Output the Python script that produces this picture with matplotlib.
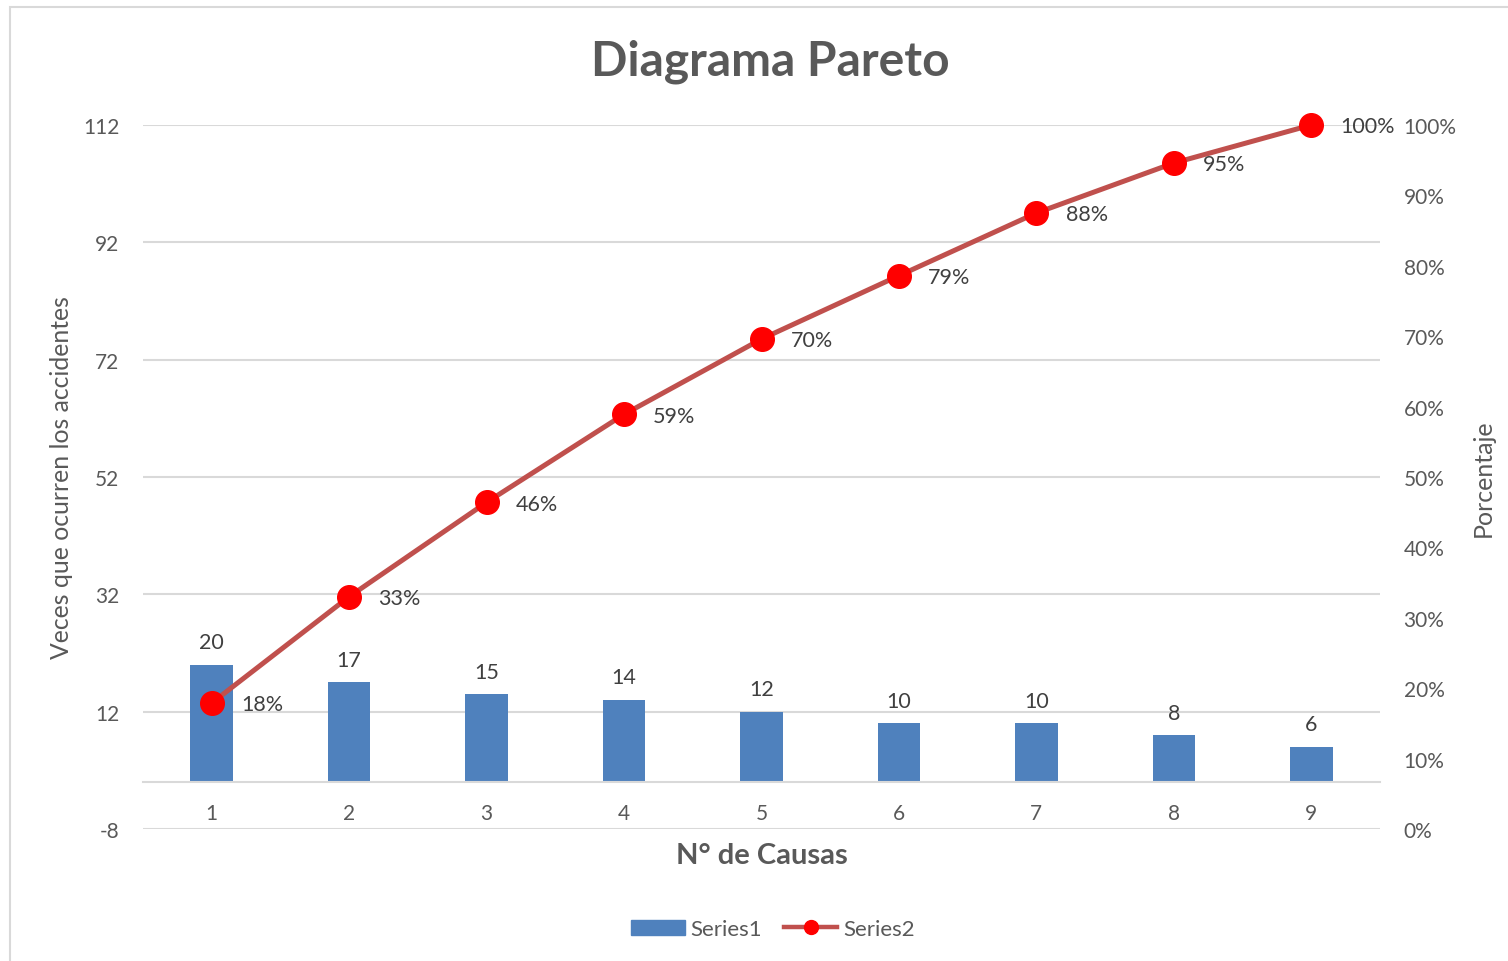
import matplotlib
matplotlib.use("Agg")
import matplotlib.pyplot as plt
from matplotlib.patches import Patch, Rectangle
from matplotlib.lines import Line2D

plt.rcParams['font.family'] = ['Lato', 'DejaVu Sans']
plt.rcParams['axes.unicode_minus'] = False

categories = ["1", "2", "3", "4", "5", "6", "7", "8", "9"]
counts = [20, 17, 15, 14, 12, 10, 10, 8, 6]
cum_pct = [17.9, 33.0, 46.4, 58.9, 69.6, 78.6, 87.5, 94.6, 100.0]
pct_labels = ["18%", "33%", "46%", "59%", "70%", "79%", "88%", "95%", "100%"]
left_ticks = [-8, 12, 32, 52, 72, 92, 112]
right_ticks = [0, 10, 20, 30, 40, 50, 60, 70, 80, 90, 100]

TXT = "#595959"
LBL = "#404040"
GRID = "#D9D9D9"
BAR = "#4F81BD"
LINE = "#C0504D"
MARK = "#FF0000"

W, H = 1508, 962
fig = plt.figure(figsize=(W / 100, H / 100), dpi=100)
ax = fig.add_axes([143 / W, 1 - 830 / H, (1380 - 143) / W, (830 - 126) / H])

x = list(range(1, len(categories) + 1))
bars = ax.bar(x, counts, width=0.31, color=BAR, zorder=2)
ax.bar_label(bars, labels=[str(c) for c in counts], padding=9, fontsize=15.5, color=LBL)

ax.set_xlim(0.5, len(categories) + 0.5)
ax.set_ylim(left_ticks[0], left_ticks[-1])
ax.set_yticks(left_ticks)
ax.set_xticks(x)
ax.set_xticklabels(categories)
ax.grid(axis='y', color=GRID, linewidth=1.5, zorder=0)
ax.set_axisbelow(True)
for s in ['top', 'right', 'left']:
    ax.spines[s].set_visible(False)
ax.spines['bottom'].set_position(('data', 0))
ax.spines['bottom'].set_color(GRID)
ax.spines['bottom'].set_linewidth(1.5)
ax.tick_params(axis='x', length=0, pad=15, labelsize=15, labelcolor=TXT)
ax.tick_params(axis='y', length=0, pad=17, labelsize=15, labelcolor=TXT)

ax.set_xlabel("N° de Causas", fontsize=21, fontweight='bold', color=TXT)
ax.xaxis.set_label_coords(0.5, -0.018)
ax.set_ylabel("Veces que ocurren los accidentes", fontsize=17.8, color=TXT)
ax.yaxis.label.set_va('center')
ax.yaxis.set_label_coords(-0.0655, 0.5)

ax2 = ax.twinx()
ax2.set_ylim(0, 100)
ax2.set_yticks(right_ticks)
ax2.set_yticklabels([f"{t}%" for t in right_ticks])
for s in ax2.spines.values():
    s.set_visible(False)
ax2.tick_params(axis='y', length=0, pad=17, labelsize=15, labelcolor=TXT)
ax2.plot(x, cum_pct, color=LINE, linewidth=3.6, marker='o', markersize=17,
         markerfacecolor=MARK, markeredgecolor=MARK, zorder=3, clip_on=False)
for xi, yi, lab in zip(x, cum_pct, pct_labels):
    ax2.annotate(lab, (xi, yi), xytext=(21, -1), textcoords='offset points',
                 ha='left', va='center', fontsize=15.5, color=LBL)
ax2.set_ylabel("Porcentaje", fontsize=18, color=TXT)
ax2.yaxis.label.set_va('center')
ax2.yaxis.set_label_coords((1483 - 143) / (1380 - 143), 0.5)

fig.text(770 / W, 1 - 62 / H, "Diagrama Pareto", fontsize=34.5, fontweight='bold',
         color=TXT, ha='center', va='center')

handles = [Patch(facecolor=BAR, edgecolor=BAR),
           Line2D([0], [0], color=LINE, linewidth=3.2, marker='o', markersize=10,
                  markerfacecolor=MARK, markeredgecolor=MARK)]
fig.legend(handles, ["Series1", "Series2"], loc='center', bbox_to_anchor=(773 / W, 1 - 930 / H),
           ncol=2, frameon=False, fontsize=16, labelcolor=TXT, handlelength=2.4,
           handletextpad=0.25, columnspacing=1.0, handleheight=0.65)

fig.patches.append(Rectangle((10 / W, -0.5), 2.0, 1.5 - 8 / H, transform=fig.transFigure,
                             fill=False, edgecolor=GRID, linewidth=1.5))

fig.savefig("out.png", dpi=100)
